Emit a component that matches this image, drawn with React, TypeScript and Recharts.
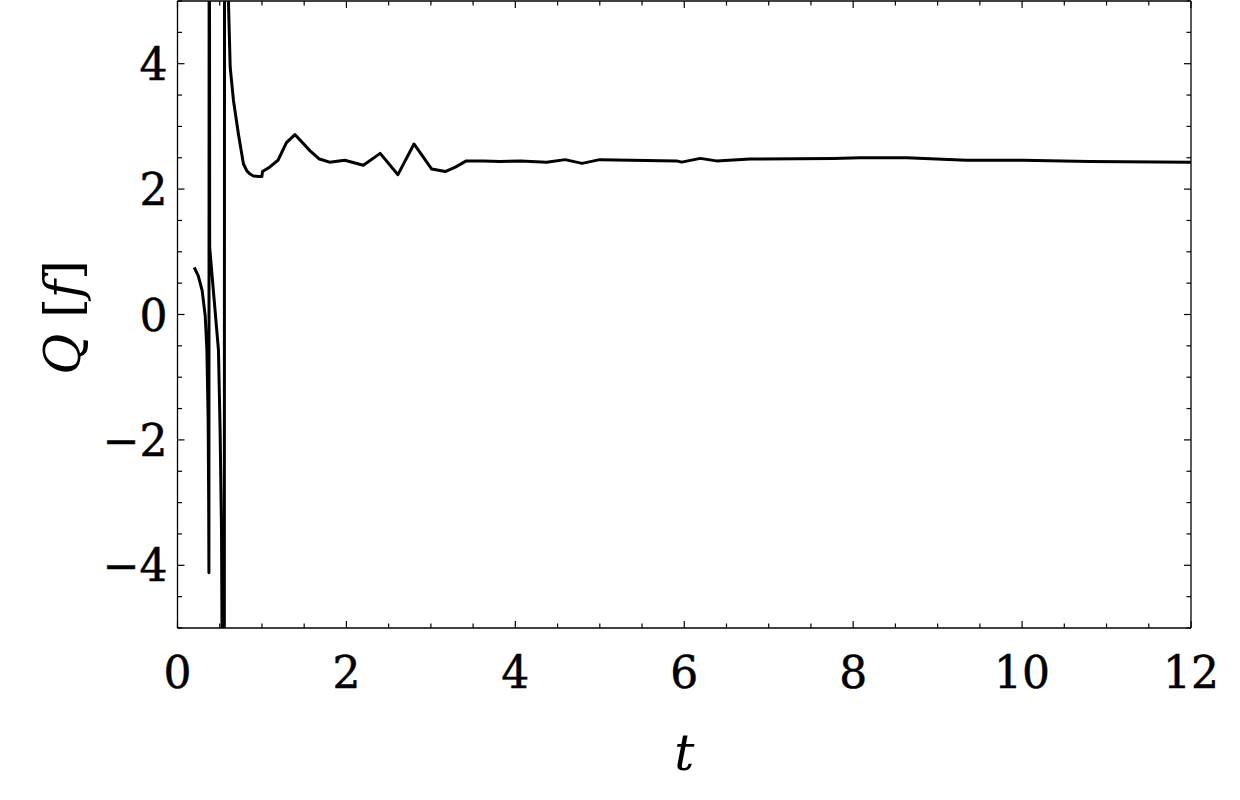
import React from "react";
import { LineChart, Line, XAxis, YAxis, Label } from "recharts";

// t values and Q[f](t); the jumps past ±5 are the poles
const tValues = [
  0.198, 0.245, 0.292, 0.328, 0.348, 0.363, 0.369, 0.372,
  0.376, 0.381, 0.433, 0.485, 0.505, 0.521, 0.527, 0.532,
  0.553, 0.558, 0.58, 0.603, 0.624, 0.663, 0.722, 0.781, 0.821, 0.86, 0.899, 0.959, 0.999,
  1.006, 1.09, 1.19, 1.29, 1.39, 1.57, 1.68, 1.8, 1.98,
  2.2, 2.4, 2.61, 2.8, 3.01, 3.17, 3.29, 3.42, 3.62, 3.82,
  4.06, 4.37, 4.59, 4.79, 5.0, 5.91, 5.97, 6.19, 6.38, 6.78,
  7.77, 8.08, 8.63, 9.34, 10.01, 10.8, 12.0,
];
const qValues = [
  0.75, 0.62, 0.38, -0.02, -0.57, -1.69, -2.96, -4.12,
  12, 1.07, 0.25, -0.57, -1.89, -3.44, -5.0, -12,
  -12, 12, 7.5, 5.0, 3.94, 3.41, 2.87, 2.4, 2.29, 2.24, 2.21, 2.2, 2.2,
  2.28, 2.35, 2.46, 2.74, 2.87, 2.61, 2.48, 2.43, 2.46,
  2.38, 2.57, 2.23, 2.72, 2.32, 2.28, 2.35, 2.45, 2.45, 2.44,
  2.45, 2.43, 2.47, 2.41, 2.47, 2.45, 2.43, 2.49, 2.45, 2.48,
  2.49, 2.5, 2.5, 2.46, 2.46, 2.44, 2.43,
];

const xTicks = [0, 0.5, 1, 1.5, 2, 2.5, 3, 3.5, 4, 4.5, 5, 5.5, 6, 6.5, 7, 7.5, 8, 8.5, 9, 9.5, 10, 10.5, 11, 11.5, 12];
const yTicks = [-5, -4.5, -4, -3.5, -3, -2.5, -2, -1.5, -1, -0.5, 0, 0.5, 1, 1.5, 2, 2.5, 3, 3.5, 4, 4.5, 5];
const xLabelTicks = [0, 2, 4, 6, 8, 10, 12];
const yLabelTicks = [-4, -2, 0, 2, 4];

const data = tValues.map((t, i) => ({ t, q: qValues[i] }));

const FONT = "DejaVu Serif";
const MAJOR = 7;
const MINOR = 4.5;

const fmt = (v: number) => (v < 0 ? "\u2212" + Math.abs(v) : String(v));

const BottomTick = ({ x, y, payload }: any) => {
  const v = payload.value;
  const major = xLabelTicks.includes(v);
  return (
    <g>
      <line x1={x} x2={x} y1={y} y2={y - (major ? MAJOR : MINOR)} stroke="#000" strokeWidth={1.2} />
      {major && (
        <text x={x} y={y + 60} textAnchor="middle" fontFamily={FONT} fontSize={44} fill="#000" stroke="#000" strokeWidth={0.5}>
          {fmt(v)}
        </text>
      )}
    </g>
  );
};

const TopTick = ({ x, y, payload }: any) => {
  const major = xLabelTicks.includes(payload.value);
  return <line x1={x} x2={x} y1={y} y2={y + (major ? MAJOR : MINOR)} stroke="#000" strokeWidth={1.2} />;
};

const LeftTick = ({ x, y, payload }: any) => {
  const v = payload.value;
  const major = yLabelTicks.includes(v);
  return (
    <g>
      <line x1={x} x2={x + (major ? MAJOR : MINOR)} y1={y} y2={y} stroke="#000" strokeWidth={1.2} />
      {major && (
        <text x={x - 10} y={y + 16} textAnchor="end" fontFamily={FONT} fontSize={44} fill="#000" stroke="#000" strokeWidth={0.5}>
          {fmt(v)}
        </text>
      )}
    </g>
  );
};

const RightTick = ({ x, y, payload }: any) => {
  const major = yLabelTicks.includes(payload.value);
  return <line x1={x} x2={x - (major ? MAJOR : MINOR)} y1={y} y2={y} stroke="#000" strokeWidth={1.2} />;
};

export default function App() {
  return (
    <div style={{ position: "absolute", left: 0, top: 0, background: "#fff" }}>
      <LineChart width={1240} height={800} data={data} margin={{ top: 0, right: 48, bottom: 0, left: 0 }}>
        <XAxis
          xAxisId="b"
          dataKey="t"
          type="number"
          domain={[0, 12]}
          ticks={xTicks}
          interval={0}
          allowDataOverflow
          height={172}
          tickSize={0}
          tickMargin={0}
          tick={(p: any) => <BottomTick {...p} />}
          axisLine={{ stroke: "#000", strokeWidth: 1.3 }}
        >
          <Label
            content={({ viewBox }: any) => (
              <text
                x={viewBox.x + viewBox.width / 2}
                y={770}
                textAnchor="middle"
                fontFamily={FONT}
                fontStyle="italic"
                fontSize={50}
                fill="#000"
              >
                t
              </text>
            )}
          />
        </XAxis>
        <XAxis
          xAxisId="t"
          dataKey="t"
          orientation="top"
          type="number"
          domain={[0, 12]}
          ticks={xTicks}
          interval={0}
          allowDataOverflow
          height={1}
          tickSize={0}
          tickMargin={0}
          tick={(p: any) => <TopTick {...p} />}
          axisLine={{ stroke: "#000", strokeWidth: 1.3 }}
        />
        <YAxis
          yAxisId="l"
          type="number"
          domain={[-5, 5]}
          ticks={yTicks}
          interval={0}
          allowDataOverflow
          width={177.5}
          tickSize={0}
          tickMargin={0}
          tick={(p: any) => <LeftTick {...p} />}
          axisLine={{ stroke: "#000", strokeWidth: 1.3 }}
        >
          <Label
            content={({ viewBox }: any) => {
              const cx = 80;
              const cy = viewBox.y + viewBox.height / 2 + 3;
              return (
                <text
                  x={cx}
                  y={cy}
                  transform={`rotate(-90 ${cx} ${cy})`}
                  textAnchor="middle"
                  fontFamily={FONT}
                  fontStyle="italic"
                  fontSize={50}
                  fill="#000"
                >
                  Q <tspan fontStyle="normal">[</tspan>f<tspan fontStyle="normal">]</tspan>
                </text>
              );
            }}
          />
        </YAxis>
        <YAxis
          yAxisId="r"
          orientation="right"
          type="number"
          domain={[-5, 5]}
          ticks={yTicks}
          interval={0}
          allowDataOverflow
          width={1}
          tickSize={0}
          tickMargin={0}
          tick={(p: any) => <RightTick {...p} />}
          axisLine={{ stroke: "#000", strokeWidth: 1.3 }}
        />
        <Line
          xAxisId="b"
          yAxisId="l"
          type="linear"
          dataKey="q"
          stroke="#000"
          strokeWidth={3}
          strokeLinejoin="round"
          dot={false}
          activeDot={false}
          isAnimationActive={false}
        />
      </LineChart>
    </div>
  );
}
